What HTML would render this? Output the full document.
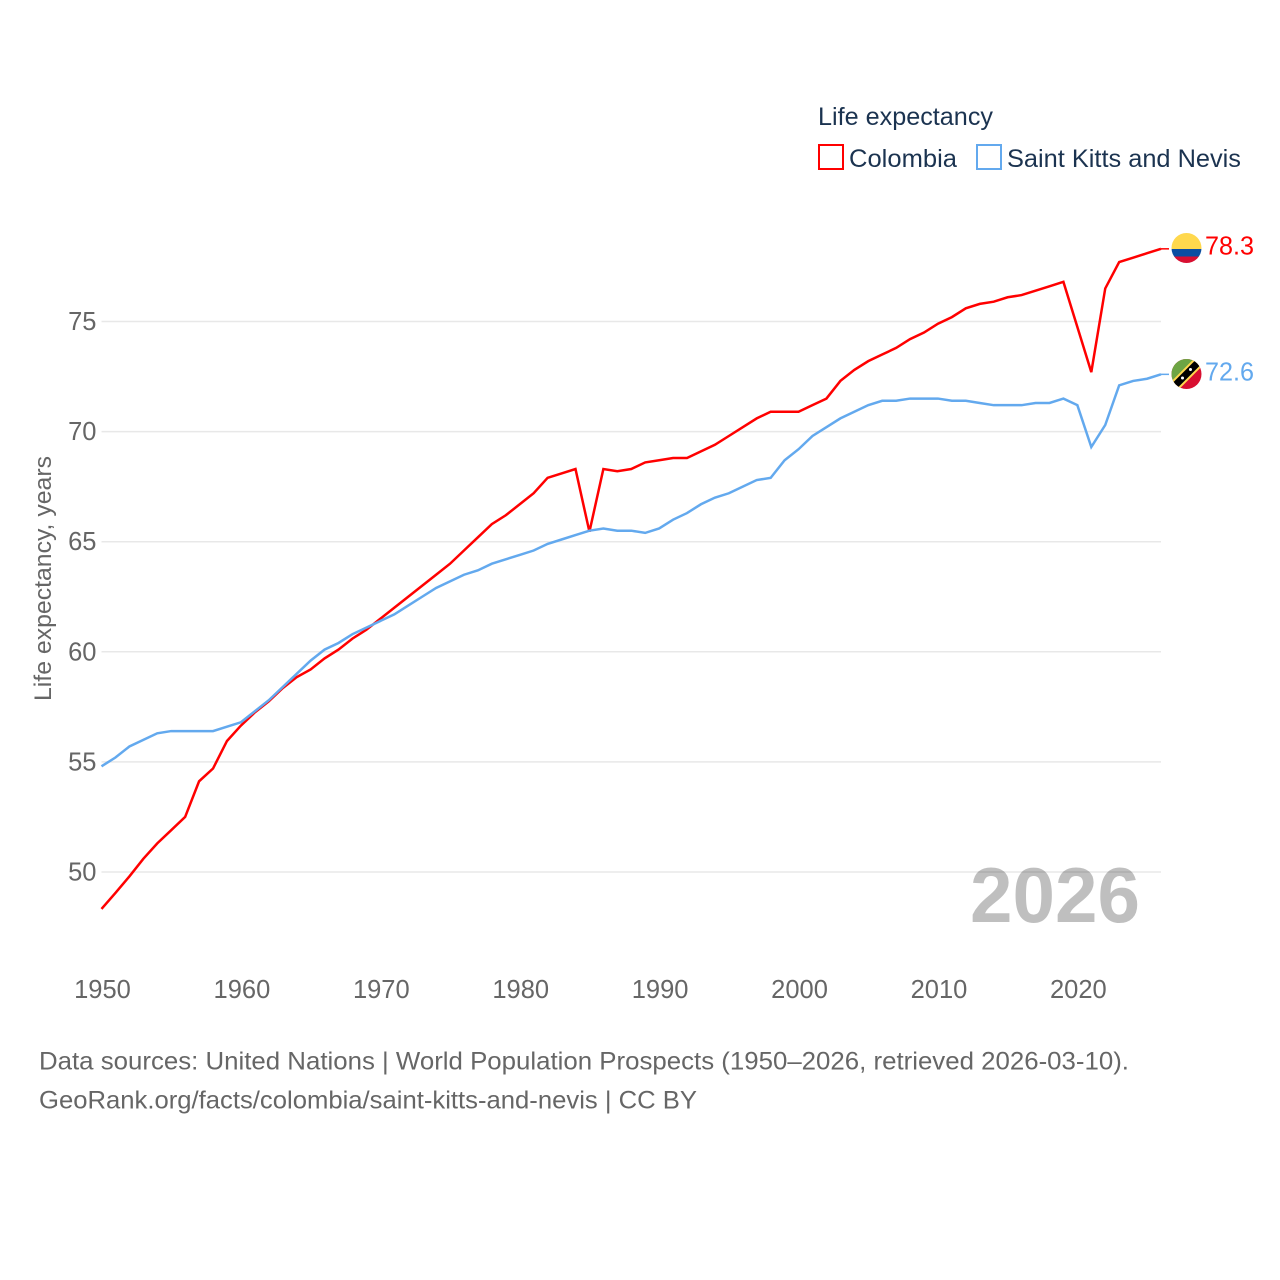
<!DOCTYPE html>
<html lang="en">
<head>
<meta charset="utf-8">
<title>Life expectancy: Colombia and Saint Kitts and Nevis</title>
<style>
html,body{margin:0;padding:0;background:#fff;width:1280px;height:1280px;overflow:hidden}
svg{display:block}
text{font-family:"Liberation Sans",sans-serif}
</style>
</head>
<body>
<svg id="chart" width="1280" height="1280" viewBox="0 0 1280 1280" xmlns="http://www.w3.org/2000/svg">
  <defs>
    <clipPath id="flag-clip-co"><circle cx="1186.500" cy="248" r="15"/></clipPath>
    <clipPath id="flag-clip-kn"><circle cx="1186.500" cy="374" r="15"/></clipPath>
  </defs>
  <rect width="1280" height="1280" fill="#fff"/>

  <g id="grid"></g>
  <g id="y-ticks"></g>
  <g id="x-ticks"></g>

  <text x="1140" y="922" text-anchor="end" font-size="78" font-weight="700" fill="#000000" fill-opacity="0.25" textLength="170" lengthAdjust="spacingAndGlyphs">2026</text>

  <text transform="translate(51 701) rotate(-90)" font-size="24" fill="#666666" textLength="245" lengthAdjust="spacingAndGlyphs">Life expectancy, years</text>

  <g id="series"></g>

  <g clip-path="url(#flag-clip-co)">
    <rect x="1170" y="232" width="33" height="17" fill="#ffd84d"/>
    <rect x="1170" y="249" width="33" height="7.500" fill="#0b4ea2"/>
    <rect x="1170" y="256.500" width="33" height="8" fill="#d80f31"/>
  </g>
  <g clip-path="url(#flag-clip-kn)">
    <rect x="1170" y="358" width="33" height="32" fill="#d80f31"/>
    <polygon points="1170.500,358 1202.500,358 1170.500,390" fill="#6da544"/>
    <line x1="1170.500" y1="390" x2="1202.500" y2="358" stroke="#ffd84d" stroke-width="11"/>
    <line x1="1170.500" y1="390" x2="1202.500" y2="358" stroke="#000" stroke-width="7"/>
    <circle cx="1182.500" cy="378" r="1.500" fill="#fff"/>
    <circle cx="1190.500" cy="369.500" r="1.500" fill="#fff"/>
  </g>

  <text x="1205" y="254.500" font-size="26" fill="#ff0000" textLength="49" lengthAdjust="spacingAndGlyphs">78.3</text>
  <text x="1205" y="380.500" font-size="26" fill="#63a9ee" textLength="49" lengthAdjust="spacingAndGlyphs">72.6</text>

  <g>
    <text x="818" y="125" font-size="25" fill="#1b3350" textLength="175" lengthAdjust="spacingAndGlyphs">Life expectancy</text>
    <g>
      <rect x="819" y="145" width="24" height="24" fill="#fff" stroke="#ff0000" stroke-width="2"/>
      <text x="849" y="167" font-size="25" fill="#1b3350" textLength="108" lengthAdjust="spacingAndGlyphs">Colombia</text>
    </g>
    <g>
      <rect x="977" y="145" width="24" height="24" fill="#fff" stroke="#63a9ee" stroke-width="2"/>
      <text x="1007" y="167" font-size="25" fill="#1b3350" textLength="234" lengthAdjust="spacingAndGlyphs">Saint Kitts and Nevis</text>
    </g>
  </g>

  <text x="39" y="1069.500" font-size="25" fill="#666666" textLength="1090" lengthAdjust="spacingAndGlyphs">Data sources: United Nations | World Population Prospects (1950–2026, retrieved 2026-03-10).</text>
  <text x="39" y="1108.500" font-size="25" fill="#666666" textLength="658" lengthAdjust="spacingAndGlyphs">GeoRank.org/facts/colombia/saint-kitts-and-nevis | CC BY</text>
</svg>

<script>
const startYear = 1950;
const colombiaValues = [
  48.32,49.05,49.8,50.6,51.3,51.9,52.5,54.12,54.7,55.95,
  56.65,57.25,57.75,58.35,58.85,59.2,59.7,60.1,60.6,61.0,
  61.5,62.0,62.5,63.0,63.5,64.0,64.6,65.2,65.8,66.2,
  66.7,67.2,67.9,68.1,68.3,65.45,68.3,68.2,68.3,68.6,
  68.7,68.8,68.8,69.1,69.4,69.8,70.2,70.6,70.9,70.9,
  70.9,71.2,71.5,72.3,72.8,73.2,73.5,73.8,74.2,74.5,
  74.9,75.2,75.6,75.8,75.9,76.1,76.2,76.4,76.6,76.8,
  74.75,72.7,76.5,77.7,77.9,78.1,78.3
];
const saintKittsValues = [
  54.8,55.2,55.7,56.0,56.3,56.4,56.4,56.4,56.4,56.6,
  56.8,57.3,57.8,58.4,59.0,59.6,60.1,60.4,60.8,61.1,
  61.4,61.7,62.1,62.5,62.9,63.2,63.5,63.7,64.0,64.2,
  64.4,64.6,64.9,65.1,65.3,65.5,65.6,65.5,65.5,65.4,
  65.6,66.0,66.3,66.7,67.0,67.2,67.5,67.8,67.9,68.7,
  69.2,69.8,70.2,70.6,70.9,71.2,71.4,71.4,71.5,71.5,
  71.5,71.4,71.4,71.3,71.2,71.2,71.2,71.3,71.3,71.5,
  71.2,69.3,70.3,72.1,72.3,72.4,72.6
];
const yTickValues = [50,55,60,65,70,75];
const xTickValues = [1950,1960,1970,1980,1990,2000,2010,2020];

const SVG_NS = 'http://www.w3.org/2000/svg';
const plotLeft = 101.5, plotRight = 1161;
const endYear = startYear + colombiaValues.length - 1;
function xScale(year){ return plotLeft + (year - startYear) * (plotRight - plotLeft) / (endYear - startYear); }
function yScale(value){ return 872 - (value - 50) * 22.02; }

const gridGroup = document.getElementById('grid');
const yTickGroup = document.getElementById('y-ticks');
const xTickGroup = document.getElementById('x-ticks');
const seriesGroup = document.getElementById('series');

yTickValues.forEach(function(v){
  const line = document.createElementNS(SVG_NS, 'line');
  line.setAttribute('x1', plotLeft);
  line.setAttribute('x2', plotRight);
  line.setAttribute('y1', yScale(v));
  line.setAttribute('y2', yScale(v));
  line.setAttribute('stroke', '#e8e8e8');
  line.setAttribute('stroke-width', '1.5');
  
  
  gridGroup.appendChild(line);

  const label = document.createElementNS(SVG_NS, 'text');
  label.setAttribute('x', 96.5);
  label.setAttribute('y', yScale(v) + 8.5);
  label.setAttribute('text-anchor', 'end');
  label.setAttribute('font-size', '25.5');
  label.setAttribute('fill', '#666666');
  
  
  label.textContent = v;
  yTickGroup.appendChild(label);
});

xTickValues.forEach(function(y){
  const label = document.createElementNS(SVG_NS, 'text');
  label.setAttribute('x', xScale(y) + 1);
  label.setAttribute('y', 998);
  label.setAttribute('text-anchor', 'middle');
  label.setAttribute('font-size', '25.5');
  label.setAttribute('fill', '#666666');
  
  
  label.textContent = y;
  xTickGroup.appendChild(label);
});

function buildPoints(values){
  return values.map(function(v, i){
    return xScale(startYear + i).toFixed(2) + ',' + yScale(v).toFixed(2);
  }).join(' ');
}

const colombiaLine = document.createElementNS(SVG_NS, 'polyline');
colombiaLine.setAttribute('points', buildPoints(colombiaValues));
colombiaLine.setAttribute('fill', 'none');
colombiaLine.setAttribute('stroke', '#ff0000');
colombiaLine.setAttribute('stroke-width', '2.5');


seriesGroup.appendChild(colombiaLine);

const saintKittsLine = document.createElementNS(SVG_NS, 'polyline');
saintKittsLine.setAttribute('points', buildPoints(saintKittsValues));
saintKittsLine.setAttribute('fill', 'none');
saintKittsLine.setAttribute('stroke', '#63a9ee');
saintKittsLine.setAttribute('stroke-width', '2.5');


seriesGroup.appendChild(saintKittsLine);

const colombiaConnector = document.createElementNS(SVG_NS, 'line');
colombiaConnector.setAttribute('x1', xScale(endYear));
colombiaConnector.setAttribute('x2', 1169);
colombiaConnector.setAttribute('y1', yScale(colombiaValues[colombiaValues.length - 1]));
colombiaConnector.setAttribute('y2', yScale(colombiaValues[colombiaValues.length - 1]));
colombiaConnector.setAttribute('stroke', '#ff0000');
colombiaConnector.setAttribute('stroke-width', '1.5');


seriesGroup.appendChild(colombiaConnector);

const saintKittsConnector = document.createElementNS(SVG_NS, 'line');
saintKittsConnector.setAttribute('x1', xScale(endYear));
saintKittsConnector.setAttribute('x2', 1169);
saintKittsConnector.setAttribute('y1', yScale(saintKittsValues[saintKittsValues.length - 1]));
saintKittsConnector.setAttribute('y2', yScale(saintKittsValues[saintKittsValues.length - 1]));
saintKittsConnector.setAttribute('stroke', '#63a9ee');
saintKittsConnector.setAttribute('stroke-width', '1.5');


seriesGroup.appendChild(saintKittsConnector);
</script>
</body>
</html>
